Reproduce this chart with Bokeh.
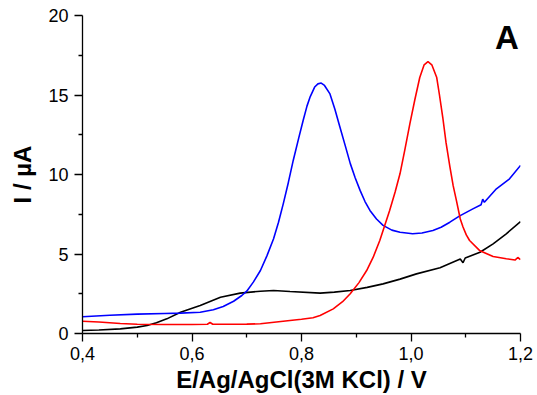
from bokeh.plotting import figure
from bokeh.models import FixedTicker, Range1d, Label
from bokeh.embed import file_html
from bokeh.resources import INLINE

# ---- data ----
blue_x = [0.40, 0.45, 0.50, 0.55, 0.579, 0.615, 0.639, 0.657, 0.676, 0.691, 0.700, 0.712,
          0.725, 0.737, 0.749, 0.758, 0.767, 0.776, 0.785, 0.795, 0.803, 0.810, 0.816, 0.824,
          0.830, 0.836, 0.842, 0.852, 0.861, 0.870, 0.880, 0.889, 0.898, 0.907, 0.916, 0.925,
          0.937, 0.949, 0.965, 0.980, 1.003, 1.020, 1.040, 1.055, 1.071, 1.089, 1.113, 1.128,
          1.131, 1.134, 1.156, 1.180, 1.200]
blue_y = [1.05, 1.15, 1.22, 1.26, 1.28, 1.34, 1.49, 1.70, 2.03, 2.39, 2.66, 3.23,
          3.96, 4.90, 5.96, 7.00, 8.20, 9.50, 10.90, 12.30, 13.40, 14.30, 14.90, 15.50,
          15.70, 15.75, 15.60, 15.07, 14.10, 13.00, 11.80, 10.70, 9.80, 9.00, 8.30, 7.74,
          7.20, 6.80, 6.50, 6.37, 6.27, 6.32, 6.48, 6.68, 7.00, 7.40, 7.84, 8.10,
          8.45, 8.25, 9.10, 9.73, 10.57]

red_x = [0.40, 0.43, 0.469, 0.50, 0.55, 0.60, 0.628, 0.633, 0.638, 0.70, 0.725, 0.779,
         0.80, 0.821, 0.834, 0.858, 0.875, 0.889, 0.905, 0.919, 0.931, 0.943, 0.952, 0.961,
         0.971, 0.980, 0.989, 0.998, 1.007, 1.016, 1.024, 1.031, 1.038, 1.047, 1.052, 1.058,
         1.064, 1.071, 1.077, 1.083, 1.090, 1.095, 1.101, 1.107, 1.126, 1.150, 1.174, 1.190,
         1.195, 1.200]
red_y = [0.77, 0.72, 0.63, 0.58, 0.57, 0.57, 0.58, 0.69, 0.58, 0.59, 0.61, 0.82,
         0.90, 0.99, 1.13, 1.55, 2.00, 2.50, 3.20, 3.96, 4.80, 5.85, 6.80, 7.74,
         8.90, 10.06, 11.60, 13.20, 14.70, 16.10, 16.90, 17.10, 16.90, 16.10, 15.00, 13.60,
         12.00, 10.50, 9.30, 8.36, 7.20, 6.70, 6.20, 5.85, 5.20, 4.84, 4.70, 4.62,
         4.78, 4.65]

black_x = [0.40, 0.43, 0.469, 0.50, 0.518, 0.535, 0.554, 0.579, 0.615, 0.652, 0.688, 0.725,
           0.749, 0.779, 0.834, 0.86, 0.889, 0.92, 0.949, 0.98, 1.01, 1.053, 1.09, 1.095,
           1.099, 1.126, 1.15, 1.174, 1.20]
black_y = [0.19, 0.22, 0.29, 0.40, 0.50, 0.68, 0.92, 1.34, 1.76, 2.28, 2.54, 2.66,
           2.70, 2.64, 2.54, 2.60, 2.70, 2.90, 3.12, 3.42, 3.75, 4.13, 4.68, 4.45,
           4.75, 5.11, 5.64, 6.27, 7.04]

x_ticks = [0.4, 0.6, 0.8, 1.0, 1.2]
x_tick_labels = ["0,4", "0,6", "0,8", "1,0", "1,2"]
x_minor = [0.5, 0.7, 0.9, 1.1]
y_ticks = [0, 5, 10, 15, 20]
y_tick_labels = ["0", "5", "10", "15", "20"]
y_minor = [2.5, 7.5, 12.5, 17.5]

FONT = "Liberation Sans"

p = figure(width=537, height=395, output_backend="svg", toolbar_location=None,
           x_range=Range1d(0.4, 1.2), y_range=Range1d(0, 20),
           min_border_left=82, min_border_right=17, min_border_top=15, min_border_bottom=62)
p.outline_line_color = None
p.grid.visible = False
p.background_fill_color = "white"
p.border_fill_color = "white"

p.line(black_x, black_y, line_color="black", line_width=1.6)
p.line(blue_x, blue_y, line_color="#0000FF", line_width=1.6)
p.line(red_x, red_y, line_color="#FF0000", line_width=1.6)

p.xaxis.ticker = FixedTicker(ticks=x_ticks, minor_ticks=x_minor)
p.xaxis.major_label_overrides = {t: l for t, l in zip(x_ticks, x_tick_labels)}
p.yaxis.ticker = FixedTicker(ticks=y_ticks, minor_ticks=y_minor)
p.yaxis.major_label_overrides = {t: l for t, l in zip(y_ticks, y_tick_labels)}

for ax in (p.xaxis, p.yaxis):
    ax.axis_line_color = "black"
    ax.axis_line_width = 1.3
    ax.major_tick_line_color = "black"
    ax.minor_tick_line_color = "black"
    ax.major_tick_line_width = 1.3
    ax.minor_tick_line_width = 1.3
    ax.major_tick_out = 8
    ax.major_tick_in = 0
    ax.minor_tick_out = 4
    ax.minor_tick_in = 0
    ax.major_label_text_font = FONT
    ax.major_label_text_font_size = "18px"
    ax.major_label_text_color = "black"
    ax.axis_label_text_font = FONT
    ax.axis_label_text_font_size = "24px"
    ax.axis_label_text_font_style = "bold"
    ax.axis_label_text_color = "black"

p.xaxis.axis_label = "E/Ag/AgCl(3M KCl) / V"
p.yaxis.axis_label = "I / µA"
p.xaxis.major_label_standoff = 5
p.yaxis.major_label_standoff = 6
p.xaxis.axis_label_standoff = 3
p.yaxis.axis_label_standoff = 9

p.add_layout(Label(x=1.197, y=18.6, text="A", text_align="right", text_baseline="alphabetic",
                   text_font=FONT, text_font_size="33px", text_font_style="bold",
                   text_color="black"))

open("out.html", "w").write(file_html(p, INLINE))
